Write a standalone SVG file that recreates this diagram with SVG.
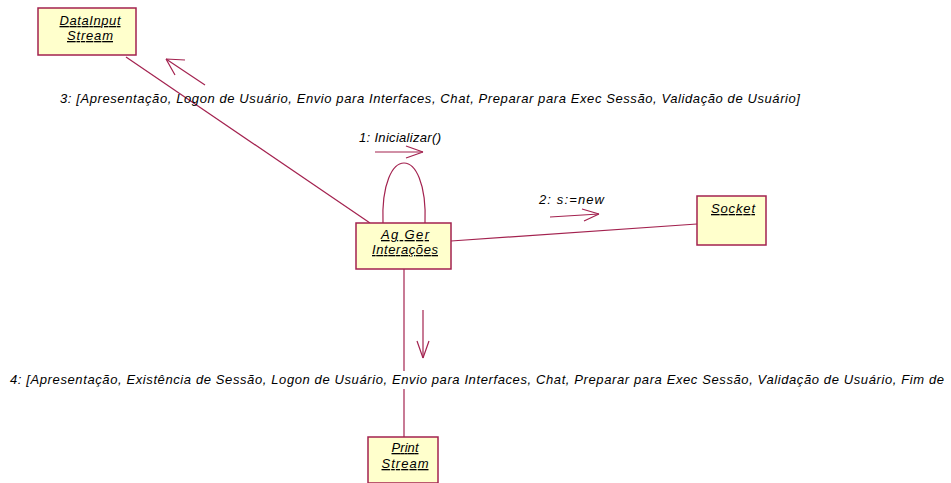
<svg xmlns="http://www.w3.org/2000/svg" width="951" height="483" viewBox="0 0 951 483">
<style>
.node rect{fill:#FFFFCC;stroke:#A3224F;stroke-width:1.5}
.node text{font-family:"Liberation Sans",Arial,sans-serif;font-size:13px;font-style:italic;text-decoration:underline;text-anchor:middle;fill:#000}
.conn line,.conn path{stroke:#A3224F;stroke-width:1.2;fill:none}
.lbl{font-family:"Liberation Sans",Arial,sans-serif;font-size:13px;font-style:italic;fill:#000}
</style>
<rect width="951" height="483" fill="#fff"/>
<g id="connectors" class="conn">
<line x1="126" y1="57" x2="370" y2="223"/>
<path d="M383 223 C380 143 428 143 425 223"/>
<line x1="451" y1="241" x2="697" y2="224"/>
<line x1="404" y1="269" x2="404" y2="371"/>
<line x1="404" y1="389" x2="404" y2="437"/>
<line x1="205" y1="85" x2="166" y2="59"/>
<path d="M166 59 L185 60 M166 59 L175 75"/>
<line x1="375" y1="152" x2="423" y2="152"/>
<path d="M423 152 L406 146 M423 152 L406 158"/>
<line x1="550" y1="217" x2="599" y2="214"/>
<path d="M599 214 L582 209 M599 214 L584 221"/>
<line x1="423" y1="310" x2="423" y2="358"/>
<path d="M423 358 L417 341 M423 358 L429 341"/>
</g>
<g id="labels">
<text class="lbl" x="359" y="142" textLength="82" lengthAdjust="spacing">1: Inicializar()</text>
<text class="lbl" x="539" y="204" textLength="65" lengthAdjust="spacing">2: s:=new</text>
<text class="lbl" x="60" y="103" textLength="740" lengthAdjust="spacing">3: [Apresentação, Logon de Usuário, Envio para Interfaces, Chat, Preparar para Exec Sessão, Validação de Usuário]</text>
<text class="lbl" x="10" y="384" textLength="934" lengthAdjust="spacing">4: [Apresentação, Existência de Sessão, Logon de Usuário, Envio para Interfaces, Chat, Preparar para Exec Sessão, Validação de Usuário, Fim de</text>
</g>
<g id="datainput" class="node">
<rect x="38" y="8" width="98" height="47"/>
<text x="90" y="25" textLength="61" lengthAdjust="spacing">DataInput</text>
<text x="90" y="40" textLength="46" lengthAdjust="spacing">Stream</text>
</g>
<g id="agger" class="node">
<rect x="356" y="223" width="95" height="46"/>
<text x="405" y="239" textLength="48" lengthAdjust="spacing">Ag Ger</text>
<text x="405" y="254" textLength="66" lengthAdjust="spacing">Interações</text>
</g>
<g id="socket" class="node">
<rect x="697" y="196" width="69" height="49"/>
<text x="733" y="213" textLength="44" lengthAdjust="spacing">Socket</text>
</g>
<g id="printstream" class="node">
<rect x="368" y="437" width="70" height="46"/>
<text x="405" y="452" textLength="27" lengthAdjust="spacing">Print</text>
<text x="405" y="468" textLength="47" lengthAdjust="spacing">Stream</text>
</g>
</svg>
